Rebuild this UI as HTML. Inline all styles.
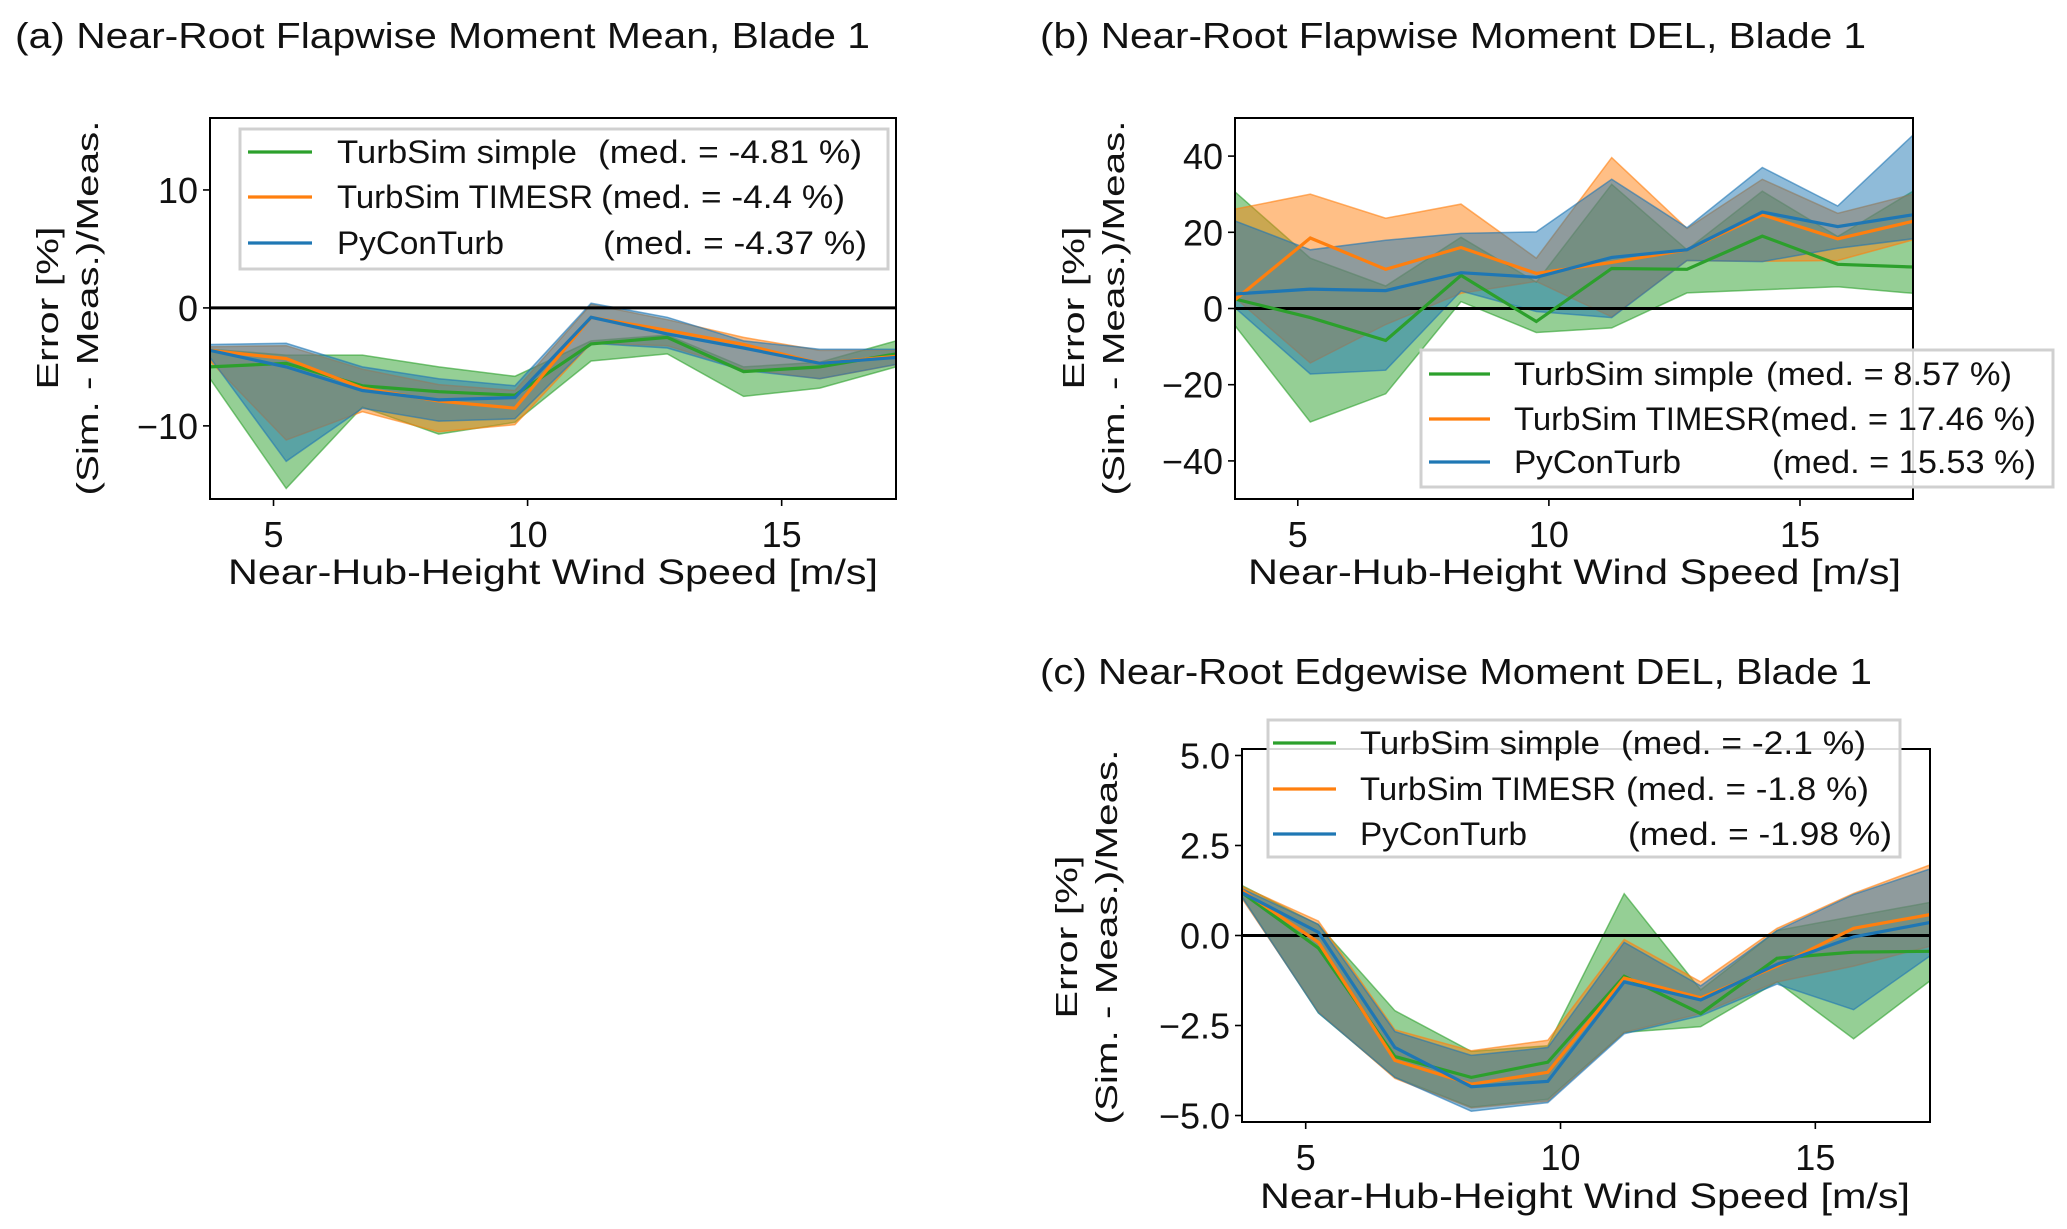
<!DOCTYPE html>
<html><head><meta charset="utf-8">
<style>
html,body{margin:0;padding:0;background:#fff;}
svg{display:block;font-family:"Liberation Sans",sans-serif;}
</style></head>
<body>
<svg id="fig" width="2067" height="1229" viewBox="0 0 2067 1229" xmlns="http://www.w3.org/2000/svg"></svg>
<script>
const windSpeeds = [3.75,5.25,6.75,8.25,9.75,11.25,12.75,14.25,15.75,17.25];
const seriesNames = ["TurbSim simple","TurbSim TIMESR","PyConTurb"];
const seriesColors = ["#2ca02c","#ff7f0e","#1f77b4"];
const xTicks = [5,10,15];

// Panel (a)
const aSimple = [-5.0,-4.7,-6.6,-7.1,-7.4,-3.05,-2.5,-5.4,-5.0,-3.9];
const aTimesr = [-3.6,-4.3,-6.8,-7.9,-8.5,-0.8,-1.9,-3.1,-4.7,-4.1];
const aPycon = [-3.6,-5.0,-7.0,-7.8,-7.6,-0.8,-2.2,-3.4,-4.7,-4.2];
const aSimpleHi = [-3.5,-4.0,-4.0,-5.0,-5.8,-2.8,-2.3,-5.0,-4.6,-2.8];
const aSimpleLo = [-6.0,-15.3,-8.4,-10.7,-9.7,-4.5,-3.9,-7.5,-6.8,-5.0];
const aTimesrHi = [-3.3,-3.2,-5.2,-6.5,-7.0,0.3,-1.0,-2.5,-3.6,-3.6];
const aTimesrLo = [-4.5,-11.2,-8.8,-10.5,-9.9,-3.0,-3.2,-5.2,-6.0,-4.8];
const aPyconHi = [-3.1,-3.0,-5.0,-6.0,-6.6,0.4,-0.8,-2.8,-3.5,-3.5];
const aPyconLo = [-4.2,-13.0,-8.5,-9.6,-9.4,-3.0,-3.4,-5.3,-6.0,-4.8];
const aYTicks = [-10,0,10];
const aYTickLabels = ["\u221210","0","10"];
const aMedians = ["(med. = -4.81 %)","(med. = -4.4 %)","(med. = -4.37 %)"];

// Panel (b)
const bSimple = [2.5,-2.4,-8.4,8.7,-3.4,10.5,10.3,19,11.6,10.9];
const bTimesr = [2.3,18.5,10.3,16,9.2,12.1,15.4,24.6,18.3,22.9];
const bPycon = [3.8,5.1,4.7,9.4,8.2,13.4,15.4,25.3,21.5,24.6];
const bSimpleHi = [30.6,13.2,5.9,18.7,6.9,32.6,15.4,30.8,18.9,30.8];
const bSimpleLo = [-4.5,-29.8,-22.4,1.8,-6.3,-5.1,4.1,4.9,5.7,4.0];
const bTimesrHi = [26.1,30,23.7,27.4,13.2,39.6,21,33.9,25,30];
const bTimesrLo = [2.8,-14.3,-4.2,4,7.1,-2.2,12.6,12.4,12.6,18];
const bPyconHi = [23,15.4,17.9,19.7,20.1,33.9,21.2,37,26.9,45.5];
const bPyconLo = [0.2,-17.2,-16.2,4.6,-0.8,-2.4,12.6,12.3,15.8,18.3];
const bYTicks = [-40,-20,0,20,40];
const bYTickLabels = ["\u221240","\u221220","0","20","40"];
const bMedians = ["(med. = 8.57 %)","(med. = 17.46 %)","(med. = 15.53 %)"];

// Panel (c)
const cSimple = [1.19,-0.35,-3.36,-3.94,-3.52,-1.13,-2.17,-0.63,-0.46,-0.44];
const cTimesr = [1.25,-0.19,-3.47,-4.13,-3.8,-1.18,-1.73,-0.85,0.2,0.58];
const cPycon = [1.19,0.09,-3.11,-4.2,-4.05,-1.29,-1.79,-0.8,-0.04,0.36];
const cSimpleHi = [1.39,0.3,-2.09,-3.22,-3.06,1.16,-1.51,0.14,0.53,0.92];
const cSimpleLo = [1.08,-2.15,-3.94,-4.77,-4.55,-2.69,-2.53,-1.29,-2.87,-1.26];
const cTimesrHi = [1.36,0.4,-2.62,-3.2,-2.91,-0.11,-1.29,0.2,1.17,1.96];
const cTimesrLo = [1.03,-2.12,-3.97,-4.79,-4.6,-2.69,-2.17,-1.29,-0.85,-0.3];
const cPyconHi = [1.3,0.31,-2.67,-3.33,-3.11,-0.19,-1.4,0.14,1.14,1.85];
const cPyconLo = [1.06,-2.15,-3.94,-4.88,-4.64,-2.73,-2.23,-1.35,-2.06,-0.57];
const cYTicks = [-5,-2.5,0,2.5,5];
const cYTickLabels = ["\u22125.0","\u22122.5","0.0","2.5","5.0"];
const cMedians = ["(med. = -2.1 %)","(med. = -1.8 %)","(med. = -1.98 %)"];

const NS = "http://www.w3.org/2000/svg";
const svg = document.getElementById("fig");
const nameW = [240,256,167];
function mk(tag, attrs, parent, text){
  const e = document.createElementNS(NS, tag);
  for (const k in attrs) e.setAttribute(k, attrs[k]);
  if (text !== undefined) e.textContent = text;
  (parent||svg).appendChild(e);
  return e;
}

function panel(cfg){
  const g = mk("g", {});
  
  
  const L=cfg.L,R=cfg.R,T=cfg.T,B=cfg.B;
  const xs = v => L + (v - 3.75) / (17.25 - 3.75) * (R - L);
  const ys = v => B - (v - cfg.ymin) / (cfg.ymax - cfg.ymin) * (B - T);

  const title = mk("text", {x:cfg.titleX, y:cfg.titleY, "font-size":36, fill:"#111", textLength:cfg.titleW, lengthAdjust:"spacingAndGlyphs"}, g, cfg.title);
  
  

  const clipId = cfg.name + "-clip";
  const cp = mk("clipPath", {id:clipId}, g);
  mk("rect", {x:L, y:T, width:R-L, height:B-T}, cp);
  const plot = mk("g", {"clip-path":"url(#"+clipId+")"}, g);

  const bands = cfg.bands;
  for (let s=0; s<3; s++){
    const hi = bands[s][0], lo = bands[s][1];
    let d = "";
    windSpeeds.forEach((w,i)=>{ d += (i?"L":"M") + xs(w).toFixed(1) + "," + ys(hi[i]).toFixed(1); });
    for (let i=windSpeeds.length-1;i>=0;i--) d += "L" + xs(windSpeeds[i]).toFixed(1) + "," + ys(lo[i]).toFixed(1);
    const p = mk("path", {d:d+"Z", fill:seriesColors[s], "fill-opacity":0.5, stroke:seriesColors[s], "stroke-opacity":0.6, "stroke-width":1.5}, plot);
    
    
  }
  const zl = mk("line", {x1:L, x2:R, y1:ys(0), y2:ys(0), stroke:"#000", "stroke-width":3}, plot);
  
  
  for (let s=0; s<3; s++){
    const pts = windSpeeds.map((w,i)=> xs(w).toFixed(1)+","+ys(cfg.lines[s][i]).toFixed(1)).join(" ");
    const pl = mk("polyline", {points:pts, fill:"none", stroke:seriesColors[s], "stroke-width":3.2}, plot);
    
    
  }
  const frame = mk("rect", {x:L, y:T, width:R-L, height:B-T, fill:"none", stroke:"#000", "stroke-width":2}, g);
  
  

  xTicks.forEach(t=>{
    const x = xs(t);
    mk("line", {x1:x, x2:x, y1:B, y2:B+7, stroke:"#000", "stroke-width":1.6}, g);
    const tl = mk("text", {x:x, y:B+48, "font-size":36, "text-anchor":"middle", fill:"#111"}, g, String(t));
    
    
  });
  cfg.yTicks.forEach((t,i)=>{
    const y = ys(t);
    mk("line", {x1:L-7, x2:L, y1:y, y2:y, stroke:"#000", "stroke-width":1.6}, g);
    const tl = mk("text", {x:L-12, y:y+13, "font-size":36, "text-anchor":"end", fill:"#111"}, g, cfg.yLabels[i]);
    
    
  });
  const xl = mk("text", {x:cfg.xlX, y:cfg.xlY, "font-size":35, fill:"#111", textLength:cfg.xlW, lengthAdjust:"spacingAndGlyphs"}, g, "Near-Hub-Height Wind Speed [m/s]");
  
  

  const cy = cfg.ylC;
  const y1 = mk("text", {x:0, y:0, "font-size":31, "text-anchor":"middle", fill:"#111", transform:"translate("+(cfg.ylX1+11)+","+cy+") rotate(-90)", textLength:163, lengthAdjust:"spacingAndGlyphs"}, g, "Error [%]");
  
  
  const y2 = mk("text", {x:0, y:0, "font-size":31, "text-anchor":"middle", fill:"#111", transform:"translate("+(cfg.ylX2+11)+","+cy+") rotate(-90)", textLength:375, lengthAdjust:"spacingAndGlyphs"}, g, "(Sim. - Meas.)/Meas.");
  
  

  const lg = cfg.leg;
  const lgG = mk("g", {}, g);
  
  
  mk("rect", {x:lg.x, y:lg.y, width:lg.w, height:lg.h, fill:"#fff", "fill-opacity":0.85, stroke:"#d0d0d0", "stroke-width":3}, lgG);
  for (let s=0; s<3; s++){
    const ry = lg.rows[s];
    mk("line", {x1:lg.hx1, x2:lg.hx2, y1:ry, y2:ry, stroke:seriesColors[s], "stroke-width":3.2}, lgG);
    const t1 = mk("text", {x:lg.tx, y:ry+11, "font-size":32, fill:"#111", textLength:nameW[s], lengthAdjust:"spacingAndGlyphs"}, lgG, seriesNames[s]);
    
    
    const t2 = mk("text", {x:lg.mx[s], y:ry+11, "font-size":32, fill:"#111", textLength:lg.mEnd[s]-lg.mx[s], lengthAdjust:"spacingAndGlyphs"}, lgG, cfg.medians[s]);
    
    
  }
}

panel({name:"panel-a", L:210, R:896, T:118, B:499, ymin:-16.2, ymax:16.1,
  title:"(a) Near-Root Flapwise Moment Mean, Blade 1", titleX:15, titleY:48, titleW:855,
  lines:[aSimple,aTimesr,aPycon],
  bands:[[aSimpleHi,aSimpleLo],[aTimesrHi,aTimesrLo],[aPyconHi,aPyconLo]],
  yTicks:aYTicks, yLabels:aYTickLabels, medians:aMedians,
  xlX:228, xlY:584, xlW:650, ylX1:47, ylX2:87, ylC:308,
  leg:{x:240,y:129,w:648,h:140,rows:[152,197,243],hx1:248,hx2:312,tx:337,mx:[598,601,603],mEnd:[862,845,867]}});

panel({name:"panel-b", L:1235, R:1913, T:118, B:499, ymin:-50, ymax:50,
  title:"(b) Near-Root Flapwise Moment DEL, Blade 1", titleX:1040, titleY:48, titleW:826,
  lines:[bSimple,bTimesr,bPycon],
  bands:[[bSimpleHi,bSimpleLo],[bTimesrHi,bTimesrLo],[bPyconHi,bPyconLo]],
  yTicks:bYTicks, yLabels:bYTickLabels, medians:bMedians,
  xlX:1248, xlY:584, xlW:653, ylX1:1073, ylX2:1113, ylC:308,
  leg:{x:1421,y:350,w:632,h:137,rows:[374,419,462],hx1:1429,hx2:1490,tx:1514,mx:[1766,1770,1772],mEnd:[2012,2036,2036]}});

panel({name:"panel-c", L:1242, R:1930, T:749, B:1122, ymin:-5.18, ymax:5.18,
  title:"(c) Near-Root Edgewise Moment DEL, Blade 1", titleX:1040, titleY:684, titleW:832,
  lines:[cSimple,cTimesr,cPycon],
  bands:[[cSimpleHi,cSimpleLo],[cTimesrHi,cTimesrLo],[cPyconHi,cPyconLo]],
  yTicks:cYTicks, yLabels:cYTickLabels, medians:cMedians,
  xlX:1260, xlY:1208, xlW:650, ylX1:1066, ylX2:1106, ylC:937,
  leg:{x:1268,y:720,w:632,h:137,rows:[743,789,834],hx1:1273,hx2:1336,tx:1360,mx:[1621,1626,1628],mEnd:[1866,1869,1892]}});
</script>
</body></html>
